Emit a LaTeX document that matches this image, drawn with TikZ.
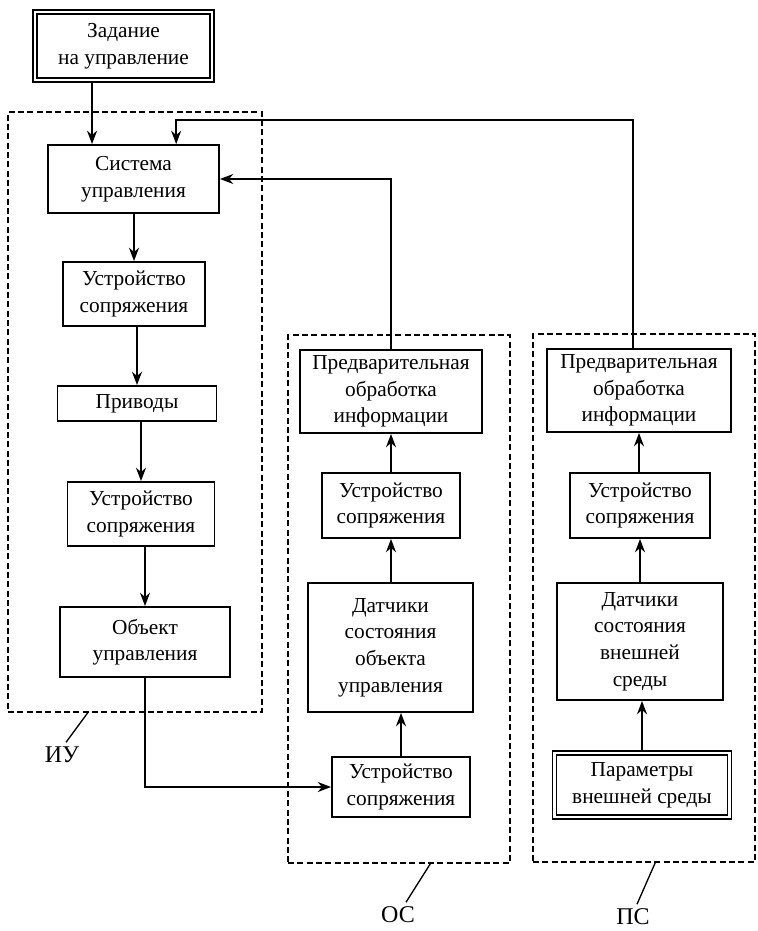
\documentclass[tikz,border=0pt]{standalone}
\usepackage{fontspec}
\setmainfont{Liberation Serif}
\usetikzlibrary{calc, arrows.meta}
\tikzset{
    >={Stealth[length=10pt, width=7.5pt]}, % filled arrow heads
    block/.style={draw, line width=1.4pt, align=center, inner sep=1pt, font=\fontsize{16}{20}\selectfont}, % the ordinary boxes
    outer/.style={block, double, line width=1.2pt, double distance=1.6pt}, % boxes with a double frame
    group/.style={draw, dash pattern=on 4.5pt off 2.5pt, line width=1.2pt}, % the dashed groups
    link/.style={->, line width=1.3pt}, % connectors
    tag/.style={font=\fontsize{18}{22}\selectfont}, % the names of the groups
}

\begin{document}
\begin{tikzpicture}[x=0.75pt, y=-0.75pt]
    \useasboundingbox (0,0) rectangle (757,931);
    % dashed groups
    \node[group, minimum width=190.5pt, minimum height=450pt] (iu) at (135,412) {};
    \node[group, minimum width=166.5pt, minimum height=396pt] (os) at (399,599) {};
    \node[group, minimum width=166.5pt, minimum height=396pt] (ps) at (644,598) {};
    % left column
    \node[outer, minimum width=132.75pt, minimum height=51pt] (zad) at (123.5,46) {Задание\\на управление};
    \node[block, minimum width=128.25pt, minimum height=51pt] (sys) at (133.5,179) {Система\\управления};
    \node[block, minimum width=106.5pt, minimum height=48pt] (us1) at (134,294) {Устройство\\сопряжения};
    \node[block, minimum width=119.25pt, minimum height=26.25pt] (priv) at (137,403.5) {Приводы};
    \node[block, minimum width=110.25pt, minimum height=48pt] (us2) at (141,514) {Устройство\\сопряжения};
    \node[block, minimum width=127.5pt, minimum height=52.5pt] (obj) at (145,642) {Объект\\управления};
    % middle column
    \node[block, minimum width=136.5pt, minimum height=62.25pt] (ospre) at (391,391.5) {Предварительная\\обработка\\информации};
    \node[block, minimum width=103.5pt, minimum height=48.75pt] (osus) at (391,505.5) {Устройство\\сопряжения};
    \node[block, minimum width=123.75pt, minimum height=96.75pt] (osdat) at (390.5,647.5) {Датчики\\состояния\\объекта\\управления};
    \node[block, minimum width=103.5pt, minimum height=45pt] (osus2) at (401,787) {Устройство\\сопряжения};
    % right column
    \node[block, minimum width=138pt, minimum height=62.25pt] (pspre) at (639,390.5) {Предварительная\\обработка\\информации};
    \node[block, minimum width=105pt, minimum height=48.75pt] (psus) at (640,505.5) {Устройство\\сопряжения};
    \node[block, minimum width=124.5pt, minimum height=87.75pt] (psdat) at (640,641.5) {Датчики\\состояния\\внешней\\среды};
    \node[outer, minimum width=131.25pt, minimum height=48pt] (pspar) at (642,785) {Параметры\\внешней среды};
    % group names
    \node[tag] (iut) at (62,755) {ИУ};
    \node[tag] (ost) at (398,915) {ОС};
    \node[tag] (pst) at (633,917) {ПС};

    \coordinate (zadout) at ([xshift=-23.6pt]zad.south);
    \coordinate (psout) at ([xshift=-4.5pt]pspre.north);
    \coordinate (sysin) at ([xshift=32pt]sys.north);

    \draw[link] (zadout) -- (zadout |- sys.north);
    \draw[link] (sys.south -| us1) -- (us1);
    \draw[link] (us1.south -| priv) -- (priv);
    \draw[link] (priv.south -| us2) -- (us2);
    \draw[link] (us2.south -| obj) -- (obj);
    \draw[link] (obj.south) |- (osus2.west);
    \draw[link] (osus2) -- (osus2 |- osdat.south);
    \draw[link] (osdat.north -| osus) -- (osus);
    \draw[link] (osus.north -| ospre) -- (ospre);
    \draw[link] (ospre.north) |- (sys.east);
    \draw[link] (pspar) -- (pspar |- psdat.south);
    \draw[link] (psdat.north -| psus) -- (psus);
    \draw[link] (psus.north -| pspre) -- (pspre);
    \draw[link] (psout) -- ++(0,-228) -| (sysin);
    % leaders to the group names
    \draw[line width=1pt] ([xshift=3pt]iut.north) -- ($(iu.south west)!0.315!(iu.south east)$);
    \draw[line width=1pt] ([xshift=6pt]ost.north) -- ($(os.south west)!0.64!(os.south east)$);
    \draw[line width=1pt] ([xshift=3pt]pst.north) -- ($(ps.south west)!0.55!(ps.south east)$);
\end{tikzpicture}
\end{document}
